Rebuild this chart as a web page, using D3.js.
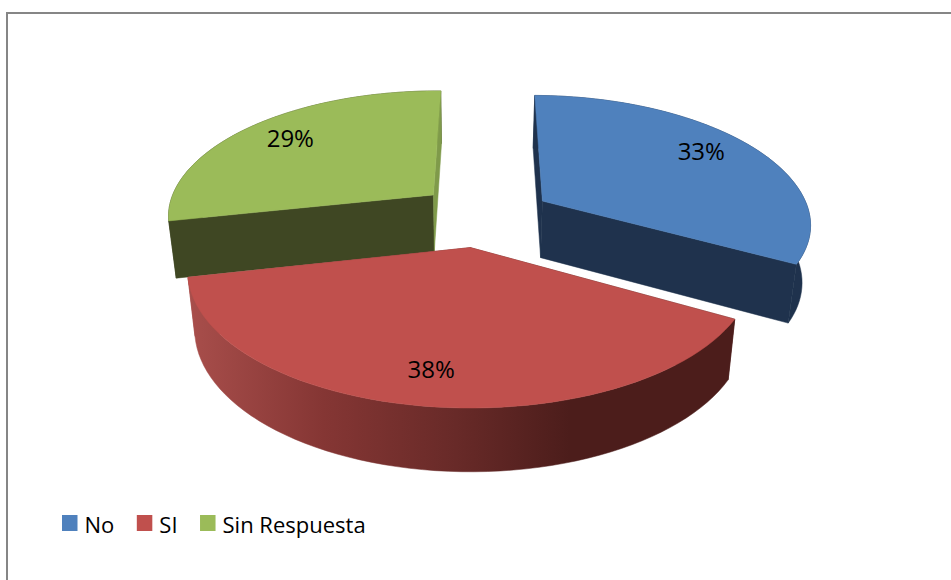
<!DOCTYPE html>
<html>
<head>
<meta charset="utf-8">
<script src="https://cdn.jsdelivr.net/npm/d3@7"></script>
<style>
  html, body { margin: 0; padding: 0; background: #fff; overflow: hidden; }
  text { font-family: "Open Sans", sans-serif; fill: #000; }
</style>
</head>
<body>
<div id="chart-area"></div>
<script>
// Data
var categories = ["No", "SI", "Sin Respuesta"];
var values = [33, 38.4, 28.6];
var labels = ["33%", "38%", "29%"];

// Colours
var topColors = ["#4f81bd", "#c0504d", "#9bbb59"];
var startWallColors = ["#1f324d", "url(#red-rim)", "#3f4723"];
var endWallColors = ["#1f324d", "url(#red-rim)", "#7f9a4a"];
var rimColors = ["#1f324d", "url(#red-rim)", "#3f4723"];

var width = 951;
var height = 580;

// Perspective of the pie plane: ground units are pie radii
var xv = 470, horizon = 563, u0 = 1 / 811, du = 0.000208, c = 0.35;
var centre = { x: 0.049, y: -0.2485 };
var explode = 0.25, explodeTurn = 2.5 * Math.PI / 180;
var rimX = 0.983, rimFront = 0.98, rimBack = 1.01;
var labelRadius = 0.79;
var labelNudge = [[-9, -5], [-1, -1], [5, -1]];
var pieStart = 0.6 * Math.PI / 180;

function project(X, Y) {
  var v = 1 / (u0 - du * Y);
  return [xv + c * X * v, v - horizon];
}

// Bottom face sits lower and slightly narrower than the top face
function drop(p) {
  return [xv + (p[0] - xv) * 0.975, p[1] + 49.5 + 0.035 * p[1]];
}

var svg = d3.select("#chart-area")
  .append("svg")
    .attr("width", width)
    .attr("height", height);

var grad = svg.append("defs").append("linearGradient")
  .attr("id", "red-rim")
  .attr("gradientUnits", "userSpaceOnUse")
  .attr("x1", 190).attr("x2", 570).attr("y1", 0).attr("y2", 0);
grad.append("stop").attr("offset", "0%").attr("stop-color", "#a84e4b");
grad.append("stop").attr("offset", "35%").attr("stop-color", "#853634");
grad.append("stop").attr("offset", "70%").attr("stop-color", "#682a28");
grad.append("stop").attr("offset", "100%").attr("stop-color", "#4c1d1b");

// Chart frame, runs off the page on the right and at the bottom
svg.append("path")
  .attr("d", "M7," + height + "V13H" + width)
  .attr("fill", "none")
  .attr("stroke", "#868686")
  .attr("stroke-width", 2);

var pie = d3.pie().sort(null)
  .startAngle(pieStart)
  .endAngle(pieStart + 2 * Math.PI)
  .value(function (d) { return d; });
var slices = pie(values);
var line = d3.line();

slices.forEach(function (s) {
  var mid = (s.startAngle + s.endAngle) / 2 + explodeTurn;
  s.ax = centre.x + explode * Math.sin(mid);
  s.ay = centre.y - explode * Math.cos(mid);
  s.apex = project(s.ax, s.ay);
  s.rim = d3.range(0, 61).map(function (i) {
    var a = s.startAngle + (s.endAngle - s.startAngle) * i / 60;
    var dy = -Math.cos(a);
    return project(s.ax + rimX * Math.sin(a), s.ay + dy * (dy > 0 ? rimFront : rimBack));
  });
  s.rimBottom = s.rim.map(drop);
});

// Back slices first, the front slice last
var order = [2, 0, 1];

var g = svg.append("g");

function face(points, fill) {
  g.append("path")
    .attr("d", line(points) + "Z")
    .attr("fill", fill)
    .attr("stroke", fill)
    .attr("stroke-width", 0.5);
}

order.forEach(function (i) {
  var s = slices[i];
  var first = s.rim[0], last = s.rim[s.rim.length - 1];

  face(s.rim.concat(s.rimBottom.slice().reverse()), rimColors[i]);
  face([s.apex, first, drop(first), drop(s.apex)], startWallColors[i]);
  face([s.apex, last, drop(last), drop(s.apex)], endWallColors[i]);
  face([s.apex].concat(s.rim), topColors[i]);
});

// Percent labels
slices.forEach(function (s, i) {
  var mid = (s.startAngle + s.endAngle) / 2;
  var p = project(s.ax + labelRadius * Math.sin(mid), s.ay - labelRadius * Math.cos(mid));
  svg.append("text")
    .attr("x", p[0] + labelNudge[i][0])
    .attr("y", p[1] + labelNudge[i][1])
    .attr("dy", "0.36em")
    .attr("text-anchor", "middle")
    .attr("font-size", "24px")
    .text(labels[i]);
});

// Legend
var legend = svg.append("g").attr("transform", "translate(62, 515)");
var legendX = 0;
categories.forEach(function (name, i) {
  var item = legend.append("g").attr("transform", "translate(" + legendX + ", 0)");
  item.append("rect")
    .attr("width", 15.5)
    .attr("height", 16)
    .attr("fill", topColors[i]);
  var t = item.append("text")
    .attr("x", 22.5)
    .attr("y", 18)
    .attr("font-size", "22px")
    .text(name);
  legendX += 22.5 + t.node().getComputedTextLength() + 22.5;
});
</script>
</body>
</html>
